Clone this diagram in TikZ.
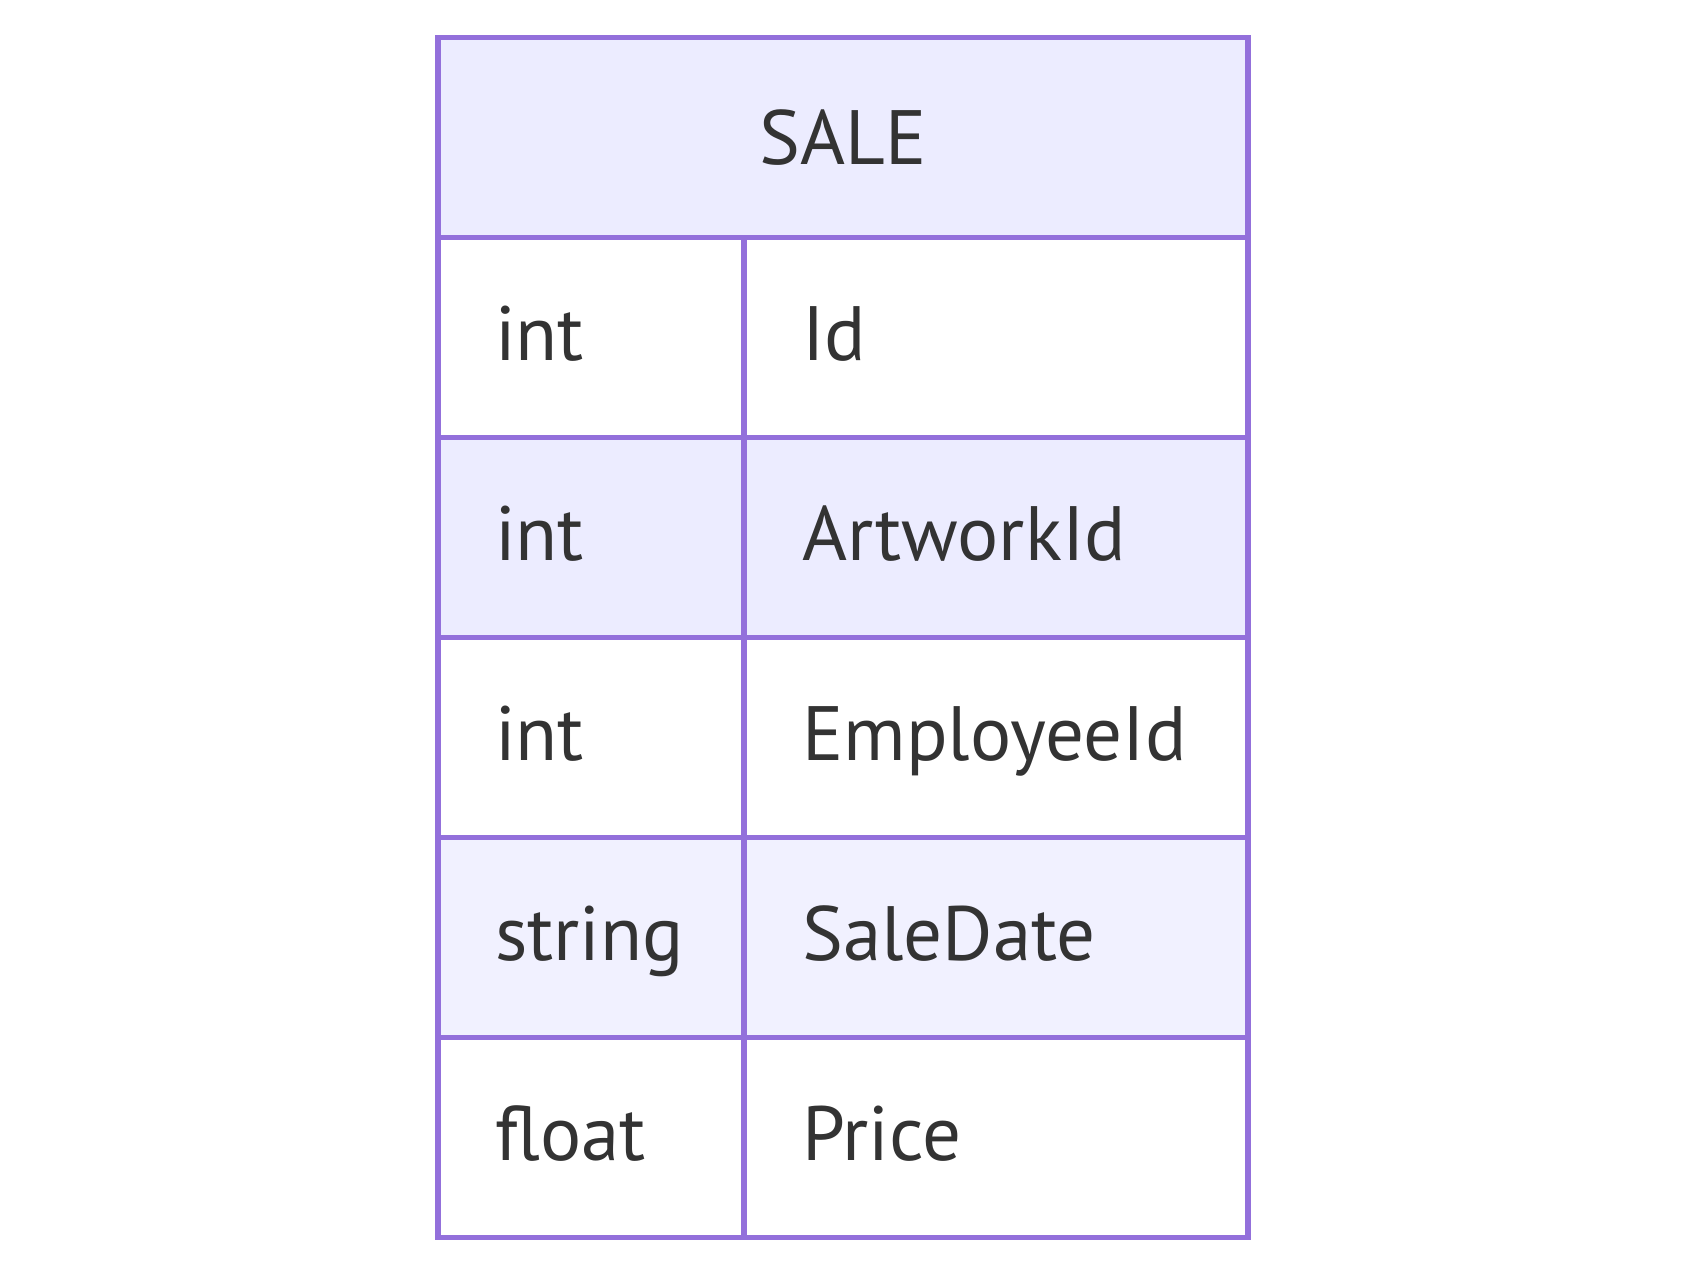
\documentclass[tikz,border=0pt]{standalone}
\usepackage{fontspec}
\setmainfont{PT Sans}
\usetikzlibrary{positioning}
\definecolor{erline}{HTML}{9370DB}
\definecolor{erhead}{HTML}{ECECFF}
\definecolor{erodd}{HTML}{ECECFF}
\definecolor{erlight}{HTML}{F1F1FF}
\definecolor{ertext}{HTML}{333333}

\begin{document}
\begin{tikzpicture}[x=1pt, y=-1pt,
  cell/.style={draw=erline, line width=5.5pt, inner sep=0pt, outer sep=0pt,
               minimum height=200pt, text=ertext,
               font=\fontsize{77}{90}\selectfont},
  typecell/.style={cell, minimum width=306pt},
  namecell/.style={cell, minimum width=504pt},
  txt/.style={anchor=base west, inner sep=0pt, text=ertext,
              font=\fontsize{77}{90}\selectfont}
]
  \useasboundingbox (0,0) rectangle (1687,1276);
  % entity header
  \node[cell, fill=erhead, minimum width=810pt, anchor=north west] (head) at (438,37.5) {SALE};
  % attribute rows, top to bottom
  \node[typecell, fill=white, below right=0pt of head.south west] (t1) {};
  \node[namecell, fill=white, right=0pt of t1] (n1) {};
  \node[typecell, fill=erodd, below=0pt of t1] (t2) {};
  \node[namecell, fill=erodd, right=0pt of t2] (n2) {};
  \node[typecell, fill=white, below=0pt of t2] (t3) {};
  \node[namecell, fill=white, right=0pt of t3] (n3) {};
  \node[typecell, fill=erlight, below=0pt of t3] (t4) {};
  \node[namecell, fill=erlight, right=0pt of t4] (n4) {};
  \node[typecell, fill=white, below=0pt of t4] (t5) {};
  \node[namecell, fill=white, right=0pt of t5] (n5) {};
  % cell texts
  \node[txt] (ty1) at ([xshift=57pt, yshift=-23pt]t1.west) {int};
  \node[txt] (nm1) at ([xshift=58pt, yshift=-23pt]n1.west) {Id};
  \node[txt] (ty2) at ([xshift=57pt, yshift=-23pt]t2.west) {int};
  \node[txt] (nm2) at ([xshift=58pt, yshift=-23pt]n2.west) {ArtworkId};
  \node[txt] (ty3) at ([xshift=57pt, yshift=-23pt]t3.west) {int};
  \node[txt] (nm3) at ([xshift=58pt, yshift=-23pt]n3.west) {EmployeeId};
  \node[txt] (ty4) at ([xshift=57pt, yshift=-23pt]t4.west) {string};
  \node[txt] (nm4) at ([xshift=58pt, yshift=-23pt]n4.west) {SaleDate};
  \node[txt] (ty5) at ([xshift=57pt, yshift=-23pt]t5.west) {float};
  \node[txt] (nm5) at ([xshift=58pt, yshift=-23pt]n5.west) {Price};
\end{tikzpicture}
\end{document}
